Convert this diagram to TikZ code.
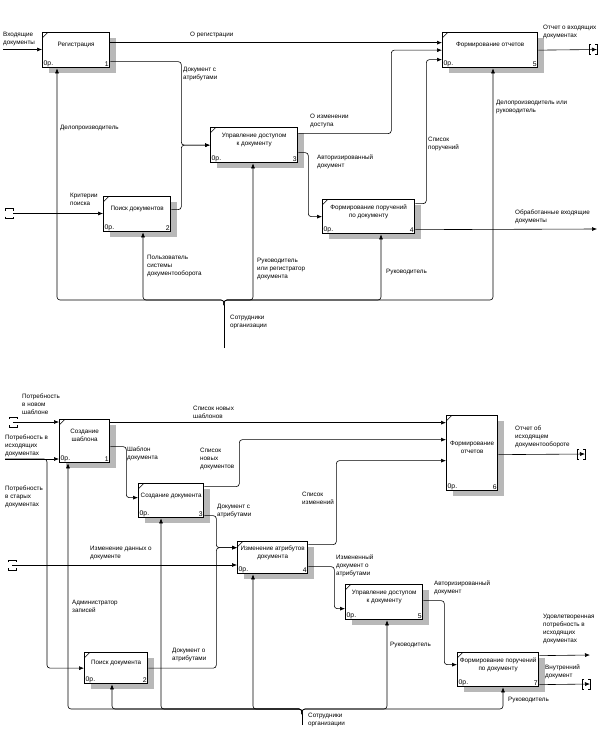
\documentclass[tikz,border=0pt]{standalone}
\usepackage{fontspec}
\setmainfont{Liberation Sans}
\usetikzlibrary{arrows.meta,shadows}
\tikzset{
  func/.style={draw,line width=1.3pt,fill=white,anchor=north west,inner sep=0pt,
    align=center,text depth=11pt,font=\fontsize{6.3}{8}\selectfont,
    drop shadow={shadow xshift=6pt,shadow yshift=-5pt,opacity=1,fill=black!28},
    path picture={\draw[line width=0.6pt] (path picture bounding box.north west) ++(0pt,-5pt) -- ++(5pt,5pt);},
    label={[cost]south west:0р.}},
  cost/.style={anchor=south west,inner sep=1.5pt,font=\fontsize{6.8}{8}\selectfont},
  num/.style={anchor=south east,inner sep=1.5pt,font=\fontsize{6.8}{8}\selectfont},
  txt/.style={anchor=north west,inner sep=0pt,align=left,font=\fontsize{6.3}{8.3}\selectfont},
  arr/.style={->,line width=0.6pt,rounded corners=3pt},
  tun/.style={line width=0.6pt}
}
\begin{document}
\begin{tikzpicture}[x=1pt,y=-1pt,>={Latex[length=5pt,width=4pt]}]
   \fill[white] (0,0) rectangle (599,736);
   \useasboundingbox (0,0) rectangle (599,736);
   %%% upper diagram
   %boxes
   \node[func,minimum width=67pt,minimum height=35pt,label={[num]south east:1}] (reg) at (42,32) {Регистрация};
   \node[func,minimum width=67pt,minimum height=35pt,label={[num]south east:2}] (srch) at (103,196) {Поиск документов};
   \node[func,minimum width=87pt,minimum height=35pt,label={[num]south east:3}] (acc) at (210,127) {Управление доступом\\к документу};
   \node[func,minimum width=92pt,minimum height=34pt,label={[num]south east:4}] (ord) at (322,199) {Формирование поручений\\по документу};
   \node[func,minimum width=95pt,minimum height=35pt,label={[num]south east:5}] (rep) at (442,32) {Формирование отчетов};
   %ends
   \coordinate (in1) at (3,49.5);
   \coordinate (tn1) at (9,213.5);
   \coordinate (out1) at (597,49.5);
   \coordinate (out2) at (597,229);
   \coordinate (staff1) at (224,348);
   \coordinate (bus1) at (224,305);
   %inputs and outputs
   \draw[arr] (in1) -- (in1 -| reg.west);
   \draw[arr] ([xshift=4]tn1) -- (tn1 -| srch.west);
   \draw[tun] (tn1) ++(-4,-3) -- ++(0,-2) -- ++(8,0) -- ++(0,2);
   \draw[tun] (tn1) ++(-4,3) -- ++(0,2) -- ++(8,0) -- ++(0,-2);
   \draw[arr] ([yshift=7.5]reg.east) -- ([yshift=7.5]rep.west);
   \draw[arr] ([yshift=-11.5]reg.east) -- ++(71,0) |- (acc.west);
   \draw[arr] ([yshift=4.5]srch.east) -- ++(10,0) |- (acc.west);
   \draw[arr] ([yshift=11.5]acc.east) -- ++(93,0) |- (rep.west);
   \draw[arr] ([yshift=-7.5]acc.east) -- ++(10,0) |- (ord.west);
   \draw[arr] ([yshift=13]ord.east) -- ++(11,0) |- ([yshift=-9.5]rep.west);
   \draw[arr] ([yshift=-13]ord.east) -- (out2);
   \draw[arr] (rep.east) -- (out1);
   \draw[tun] (out1) ++(-6,-5) -- ++(-2,0) -- ++(0,10) -- ++(2,0);
   \draw[tun] (out1) ++(-2,-5) -- ++(2,0) -- ++(0,10) -- ++(-2,0);
   %mechanisms
   \draw[line width=0.6pt] (staff1) -- (bus1);
   \draw[arr] (bus1) -- ++(0,-5) -| ([xshift=15]reg.south west);
   \draw[arr] (bus1) -- ++(0,-5) -| ([xshift=40]srch.south west);
   \draw[arr] (bus1) -- ++(0,-5) -| ([xshift=43]acc.south west);
   \draw[arr] (bus1) -- ++(0,-5) -| ([xshift=59]ord.south west);
   \draw[arr] (bus1) -- ++(0,-5) -| ([xshift=51]rep.south west);
   %description
   \node[txt] (t1) at (3,31.5) {Входящие\\документы};
   \node[txt] (t2) at (190,31.5) {О регистрации};
   \node[txt] (t3) at (183,66.5) {Документ с\\атрибутами};
   \node[txt] (t4) at (60,124.5) {Делопроизводитель};
   \node[txt] (t5) at (310,113.5) {О изменении\\доступа};
   \node[txt] (t6) at (317,154.5) {Авторизированный\\документ};
   \node[txt] (t7) at (428,136.5) {Список\\поручений};
   \node[txt] (t8) at (496,99.5) {Делопроизводитель или\\руководитель};
   \node[txt] (t9) at (543,24.5) {Отчет о входящих\\документах};
   \node[txt] (t10) at (515,209.5) {Обработанные входящие\\документы};
   \node[txt] (t11) at (386,268.5) {Руководитель};
   \node[txt] (t12) at (70,192.5) {Критерии\\поиска};
   \node[txt] (t13) at (147,254.5) {Пользователь\\системы\\документооборота};
   \node[txt] (t14) at (257,257.5) {Руководитель\\или регистратор\\документа};
   \node[txt] (t15) at (230,314.5) {Сотрудники\\организации};
   %%% lower diagram
   %boxes
   \node[func,minimum width=50pt,minimum height=43pt,label={[num]south east:1}] (tpl) at (59,419) {Создание\\шаблона};
   \node[func,minimum width=63pt,minimum height=31pt,label={[num]south east:2}] (fnd) at (84,652) {Поиск документа};
   \node[func,minimum width=65pt,minimum height=34pt,label={[num]south east:3}] (mk) at (138,483) {Создание документа};
   \node[func,minimum width=70pt,minimum height=32pt,label={[num]south east:4}] (chg) at (237,541) {Изменение атрибутов\\документа};
   \node[func,minimum width=77pt,minimum height=35pt,label={[num]south east:5}] (acc2) at (345,584) {Управление доступом\\к документу};
   \node[func,minimum width=51pt,minimum height=75pt,label={[num]south east:6}] (rep2) at (446,415) {Формирование\\отчетов};
   \node[func,minimum width=81pt,minimum height=34pt,label={[num]south east:7}] (ord2) at (457,652) {Формирование поручений\\по документу};
   %ends
   \coordinate (tn2) at (13,422);
   \coordinate (in2) at (5,459);
   \coordinate (tn3) at (12,565);
   \coordinate (out3) at (585,454);
   \coordinate (out4) at (590,655);
   \coordinate (out5) at (590,684);
   \coordinate (staff2) at (302,725);
   \coordinate (bus2) at (302,714);
   %inputs and outputs
   \draw[arr] (tn2) -- (tn2 -| tpl.west);
   \draw[tun] (tn2) ++(-4,-3) -- ++(0,-2) -- ++(8,0) -- ++(0,2);
   \draw[tun] (tn2) ++(-4,3) -- ++(0,2) -- ++(8,0) -- ++(0,-2);
   \draw[arr] (in2) -- (in2 -| tpl.west);
   \draw[arr] (in2) -- ++(42,0) |- (fnd.west);
   \draw[arr] (tn3) -- (tn3 -| chg.west);
   \draw[tun] (tn3) ++(-4,-3) -- ++(0,-2) -- ++(8,0) -- ++(0,2);
   \draw[tun] (tn3) ++(-4,3) -- ++(0,2) -- ++(8,0) -- ++(0,-2);
   \draw[arr] ([yshift=18.5]tpl.east) -- ([yshift=30.5]rep2.west);
   \draw[arr] ([yshift=-5.5]tpl.east) -- ++(16,0) |- ([yshift=3]mk.west);
   \draw[arr] ([yshift=14]mk.east) -- ++(35,0) |- ([yshift=13.5]rep2.west);
   \draw[arr] ([yshift=-15]mk.east) -- ++(12,0) |- ([yshift=10]chg.west);
   \draw[arr] (fnd.east) -- ++(68,0) |- ([yshift=10]chg.west);
   \draw[arr] ([yshift=13]chg.east) -- ++(28,0) |- ([yshift=-7.5]rep2.west);
   \draw[arr] ([yshift=-9]chg.east) -- ++(26,0) |- ([yshift=-6.5]acc2.west);
   \draw[arr] ([yshift=1.5]acc2.east) -- ++(21,0) |- ([yshift=5]ord2.west);
   \draw[arr] ([yshift=-1.5]rep2.east) -- (out3);
   \draw[tun] (out3) ++(-6,-5) -- ++(-2,0) -- ++(0,10) -- ++(2,0);
   \draw[tun] (out3) ++(-2,-5) -- ++(2,0) -- ++(0,10) -- ++(-2,0);
   \draw[arr] ([yshift=14]ord2.east) -- (out4);
   \draw[arr] ([yshift=-15]ord2.east) -- (out5);
   \draw[tun] (out5) ++(-6,-5) -- ++(-2,0) -- ++(0,10) -- ++(2,0);
   \draw[tun] (out5) ++(-2,-5) -- ++(2,0) -- ++(0,10) -- ++(-2,0);
   %mechanisms
   \draw[line width=0.6pt] (staff2) -- (bus2);
   \draw[arr] (bus2) -- ++(0,-5) -| ([xshift=9]tpl.south west);
   \draw[arr] (bus2) -- ++(0,-5) -| ([xshift=28]fnd.south west);
   \draw[arr] (bus2) -- ++(0,-5) -| ([xshift=23]mk.south west);
   \draw[arr] (bus2) -- ++(0,-5) -| ([xshift=16]chg.south west);
   \draw[arr] (bus2) -- ++(0,-5) -| ([xshift=42]acc2.south west);
   \draw[arr] (bus2) -- ++(0,-5) -| ([xshift=46]ord2.south west);
   %description
   \node[txt] (u1) at (22,393.5) {Потребность\\в новом\\шаблоне};
   \node[txt] (u2) at (5,434.5) {Потребность в\\исходящих\\документах};
   \node[txt] (u3) at (5,485.5) {Потребность\\в старых\\документах};
   \node[txt] (u4) at (193,405.5) {Список новых\\шаблонов};
   \node[txt] (u5) at (127,446.5) {Шаблон\\документа};
   \node[txt] (u6) at (200,447.5) {Список\\новых\\документов};
   \node[txt] (u7) at (217,503.5) {Документ с\\атрибутами};
   \node[txt] (u8) at (90,545.5) {Изменение данных о\\документе};
   \node[txt] (u9) at (302,491.5) {Список\\изменений};
   \node[txt] (u10) at (336,554.5) {Измененный\\документ о\\атрибутами};
   \node[txt] (u11) at (515,425.5) {Отчет об\\исходящем\\документообороте};
   \node[txt] (u12) at (72,599.5) {Администратор\\записей};
   \node[txt] (u13) at (172,647.5) {Документ о\\атрибутами};
   \node[txt] (u14) at (434,580.5) {Авторизированный\\документ};
   \node[txt] (u15) at (390,641.5) {Руководитель};
   \node[txt] (u16) at (543,613.5) {Удовлетворенная\\потребность в\\исходящих\\документах};
   \node[txt] (u17) at (545,664.5) {Внутренний\\документ};
   \node[txt] (u18) at (508,696.5) {Руководитель};
   \node[txt] (u19) at (308,712.5) {Сотрудники\\организации};
\end{tikzpicture}
\end{document}
